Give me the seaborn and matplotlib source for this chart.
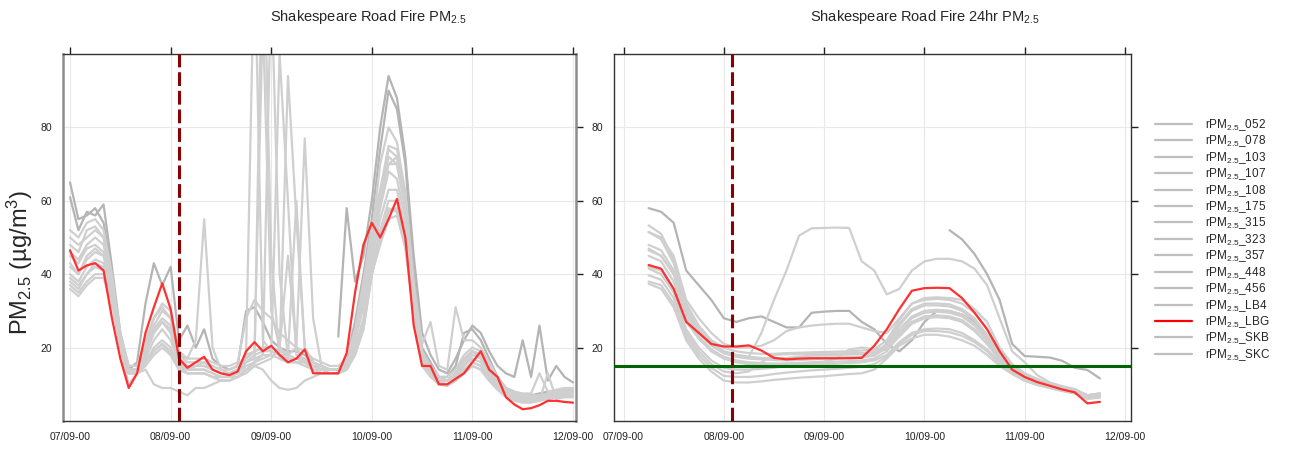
import numpy as np
import pandas as pd
import seaborn as sns
import matplotlib.pyplot as plt
import matplotlib.dates as mdates
from matplotlib.lines import Line2D

nan = np.nan

# ---- sensors ----
sites = ['052', '078', '103', '107', '108', '175', '315', '323',
         '357', '448', '456', 'LB4', 'LBG', 'SKB', 'SKC']

# ---- hourly PM2.5, read every 2 h from 07/09 00:00 to 12/09 00:00 ----
raw_times = pd.date_range('2019-09-07 00:00', '2019-09-12 00:00', freq='2h')

pm_052 = [65, 55, 56, 58, 54, 40, nan, nan, nan, nan, nan, nan,
          nan, nan, nan, nan, nan, nan, nan, nan, nan, nan, nan, nan,
          nan, nan, nan, nan, nan, nan, nan, nan, 23, 58, 38, 45,
          60, 80, 94, 88, 72, 45, 24, 18, 14, 13, 17, 22,
          26, 24, 19, 15, 13, 12, 22, 12, 26, 11, 15, 12,
          10.5]
pm_078 = [61, 52, 57, 56, 59, 42, 24, 14, 16, 32, 43, 37,
          42, 22, 26, 20, 25, 17, 15, 14, 15, 30, 31, 27,
          22, 20, 19, 19, 18, 16, 15, 14, 14, 17, 27, 40,
          55, 74, 90, 85, 70, 40, 20, 16, 12, 12, 15, 24,
          25, 22, 17, 12, 9, 8, 7, 7, 7.5, 8, 8, 8.5,
          8.5]
pm_103 = [50, 48, 50, 52, 50, 38, 22, 13, 14, 20, 26, 30,
          28, 18, 17, 22, 55, 20, 14, 13, 14, 18, 130, 22,
          19, 18, 17, 17, 16, 15, 14, 14, 14, 16, 22, 32,
          48, 62, 72, 70, 58, 33, 17, 14, 11, 11, 13, 17,
          19, 17, 13, 10, 7.5, 6.5, 6, 6, 6.5, 7, 7, 7.5,
          7.5]
pm_107 = [45, 43, 47, 48, 46, 36, 23, 14, 14, 19, 25, 28,
          26, 17, 15, 15, 16, 14, 13, 13, 14, 17, 19, 110,
          30, 20, 18, 17, 17, 15, 14, 14, 14, 15, 23, 33,
          50, 60, 70, 72, 60, 36, 18, 15, 12, 11, 13, 16,
          19, 18, 14, 10, 8, 7, 6, 6, 6.5, 7, 7.5, 8,
          8]
pm_108 = [43, 40, 44, 46, 45, 36, 21, 13, 13, 17, 22, 25,
          22, 16, 14, 14, 14, 13, 12, 12, 13, 16, 17, 18,
          120, 40, 17, 16, 16, 14, 14, 13, 13, 15, 22, 31,
          46, 58, 68, 66, 55, 33, 17, 14, 11, 11, 12, 15,
          18, 17, 13, 10, 7.5, 6.5, 6, 6, 6, 6.5, 7, 7.5,
          7.5]
pm_175 = [40, 38, 42, 44, 43, 35, 22, 14, 14, 16, 20, 22,
          20, 15, 14, 14, 14, 13, 12, 12, 13, 15, 16, 17,
          18, 100, 60, 18, 17, 15, 14, 14, 14, 15, 20, 28,
          44, 55, 63, 63, 52, 32, 17, 14, 11, 11, 12, 15,
          17, 16, 13, 9.5, 7.5, 6.5, 6, 6, 6, 6.5, 7, 7,
          7]
pm_315 = [48, 46, 52, 53, 50, 38, 24, 15, 15, 22, 28, 31,
          28, 18, 16, 16, 16, 15, 14, 14, 15, 18, 19, 20,
          20, 19, 94, 55, 20, 16, 15, 14, 14, 16, 24, 36,
          52, 62, 74, 72, 60, 36, 19, 15, 12, 12, 14, 18,
          20, 19, 15, 11, 8.5, 7.5, 7, 7, 7, 7.5, 8, 8.5,
          8.5]
pm_323 = [39, 37, 40, 42, 41, 33, 20, 13, 13, 14, 10, 9,
          9, 8, 7, 9, 9, 10, 11, 11, 12, 14, 15, 14,
          11, 9, 8.5, 9, 11, 12, 13, 13, 13, 14, 19, 26,
          40, 50, 58, 57, 48, 30, 16, 13, 10.5, 10, 11, 14,
          16, 15, 12, 9, 7, 6, 5.5, 5.5, 6, 6, 6.5, 7,
          7]
pm_357 = [42, 40, 45, 47, 45, 35, 21, 13, 14, 18, 24, 27,
          24, 16, 14, 15, 15, 14, 13, 13, 14, 16, 18, 19,
          19, 18, 18, 20, 77, 28, 15, 14, 14, 16, 23, 34,
          50, 60, 70, 70, 58, 34, 18, 15, 12, 11, 13, 16,
          19, 18, 14, 10, 8, 7, 6.5, 6.5, 7, 7, 7.5, 8,
          8]
pm_448 = [37, 35, 38, 40, 40, 33, 21, 14, 14, 16, 19, 21,
          19, 15, 13, 13, 13, 12, 12, 12, 12, 14, 15, 140,
          45, 17, 16, 16, 16, 14, 13, 13, 13, 14, 19, 26,
          42, 52, 60, 60, 50, 31, 16, 13, 10.5, 10, 11, 14,
          16, 15, 12, 9, 7, 6, 5.5, 5.5, 6, 6, 6.5, 7,
          7]
pm_456 = [36, 34, 37, 39, 39, 32, 20, 10, 13, 15, 18, 20,
          18, 14, 13, 13, 13, 12, 11, 11, 12, 13, 15, 16,
          17, 20, 45, 20, 16, 14, 13, 13, 13, 14, 18, 25,
          40, 50, 57, 58, 48, 30, 16, 13, 10, 10, 11, 13,
          15, 14, 11, 9, 7, 6, 5.5, 5.5, 5.5, 6, 6.5, 6.5,
          6.5]
pm_LB4 = [52, 50, 54, 55, 52, 40, 24, 15, 15, 21, 28, 32,
          30, 19, 17, 17, 17, 16, 15, 15, 16, 28, 33, 30,
          28, 24, 22, 20, 19, 17, 16, 15, 15, 17, 25, 38,
          53, 63, 75, 74, 62, 38, 21, 27, 15, 14, 31, 22,
          22, 20, 16, 12, 9, 8, 7.5, 7.5, 13, 8, 8.5, 9,
          9]
pm_LBG = [46.5, 41, 42.4, 43, 41, 28, 17, 9, 13, 24, 31, 37.5,
          30.5, 17, 14.5, 16, 17.5, 14, 13, 12.5, 13.5, 19, 21.5, 19,
          20.5, 18, 16, 17, 19.5, 13, 13, 13, 13, 18.5, 35, 48,
          54, 50, 55, 60.5, 50, 26, 15, 15, 10, 10, 11.5, 13,
          16, 19, 14, 12, 6.5, 4.5, 3.2, 3.5, 4.3, 5.5, 5.5, 5.2,
          5]
pm_SKB = [46, 44, 48, 50, 48, 37, 22, 14, 14, 19, 24, 27,
          25, 17, 15, 15, 15, 14, 13, 13, 14, 17, 19, 20,
          20, 19, 18, 60, 20, 16, 14, 14, 14, 15, 22, 33,
          50, 70, 80, 76, 62, 36, 18, 15, 12, 11, 13, 17,
          19, 18, 14, 10, 8, 7, 6.5, 6.5, 7, 7, 7.5, 8,
          8]
pm_SKC = [38, 36, 40, 43, 42, 34, 21, 13, 13, 16, 19, 21,
          18, 14, 13, 13, 13, 12, 11, 11, 12, 14, 16, 18,
          18, 17, 16, 16, 15, 14, 13, 13, 13, 14, 18, 25,
          40, 48, 55, 56, 47, 29, 15, 12, 10, 9.5, 11, 13,
          15, 14, 11, 8.5, 6.5, 5.5, 5, 5, 5.5, 13, 6, 6.5,
          6.5]

# ---- 24 h rolling mean, read every 3 h from 07/09 06:00 to 11/09 18:00 ----
roll_times = pd.date_range('2019-09-07 06:00', '2019-09-11 18:00', freq='3h')

r24_052 = [nan] * 24 + [52, 49.5, 45.5, 40, 33, 21, 17.7, 17.5, 17.3, 16.4, 14.5, 13.9, 11.6]
r24_078 = [58, 57, 54, 41, 37, 33, 28, 27, 28, 28.5,
           27, 25.5, 25.5, 29.5, 29.8, 30, 30, 27, 25, 21,
           19, 22, 27, 30, 30, 29, 27, 22, 17, 14,
           12.5, 11, 10, 9, 8.2, 6.5, 7]
r24_103 = [47, 45, 40, 30, 25, 21, 19, 18, 17.5, 24,
           33, 41, 50.5, 52.5, 52.6, 52.7, 52.6, 43.5, 41, 34.5,
           36, 41, 43.5, 44.2, 44.2, 43.5, 41.5, 37, 28, 19,
           16, 12.5, 10.5, 9.5, 8.7, 7, 7.5]
r24_107 = [48, 46.5, 41, 30, 25, 21.5, 19, 18, 17.5, 17.2,
           17, 16.8, 17, 17.2, 17.3, 17.3, 17.4, 17.5, 18, 21,
           26, 30, 31.5, 31.5, 31.2, 30, 27.5, 23, 18, 14.5,
           12, 10.5, 9.5, 8.8, 8.2, 6.8, 7.2]
r24_108 = [46.5, 45, 40, 29, 24, 20.5, 18.5, 17.5, 17, 16.8,
           16.6, 16.5, 16.6, 16.8, 17, 17, 17.2, 17.3, 17.8, 20,
           25, 28.5, 30, 30.3, 30, 29, 26.5, 22, 17.5, 14,
           11.8, 10.3, 9.4, 8.7, 8, 6.6, 7]
r24_175 = [45, 43.5, 38, 28, 23, 19.5, 17.5, 16.5, 16, 15.8,
           15.6, 15.5, 15.6, 15.8, 16, 16.2, 16.3, 16.5, 17, 19,
           23.5, 27, 28.5, 28.8, 28.5, 27.5, 25, 21, 17, 13.5,
           11.5, 10, 9.2, 8.5, 7.8, 6.4, 6.8]
r24_315 = [53.3, 51, 44, 32, 26, 22, 20, 19, 18.5, 18.3,
           18.3, 18.5, 18.6, 18.7, 18.8, 18.9, 19, 19.2, 19.5, 22,
           27.5, 32, 33, 33.3, 33, 32, 29.5, 25, 19, 15,
           12.5, 11, 10, 9.3, 8.6, 7, 7.5]
r24_323 = [37.4, 36, 31, 22, 17, 13.5, 11, 10.5, 10.5, 10.8,
           11.2, 11.5, 11.8, 12, 12.2, 12.5, 12.8, 13, 14, 17,
           20.5, 22.5, 23.5, 23.5, 23, 22, 20.5, 18, 15, 12.8,
           11, 9.8, 9, 8.2, 7.5, 6, 6.4]
r24_357 = [42, 41, 36, 27, 22.5, 19, 17, 16, 15.5, 15.5,
           15.6, 15.7, 15.8, 16, 16.2, 17, 19.5, 20, 19.5, 20,
           24, 28, 29.5, 29.8, 29.5, 28.5, 26, 22, 17.5, 14,
           12, 10.4, 9.5, 8.7, 8, 6.6, 7]
r24_448 = [39.7, 38.5, 33.5, 24, 19, 15.5, 13.5, 13, 13.5, 16,
           18, 18.2, 18.2, 18.3, 18.3, 18.4, 18.5, 18.5, 18.8, 19.5,
           23, 26.5, 28, 28.3, 28, 27, 24.5, 21, 16.5, 13.5,
           11.5, 10.2, 9.3, 8.5, 7.8, 6.5, 6.8]
r24_456 = [41.5, 40, 35, 25, 20, 16.5, 14.5, 14, 14, 14.2,
           14.5, 15, 15.2, 15.4, 15.5, 15.6, 15.8, 16, 16.5, 18,
           21.5, 24, 25, 25.2, 25, 24, 22, 19.5, 16, 13,
           11.2, 10, 9.1, 8.4, 7.6, 6.2, 6.6]
r24_LB4 = [51.5, 50, 45, 33, 28, 24, 21, 20, 20, 20.5,
           22, 24.5, 25.5, 26, 26.3, 26.5, 26.5, 25.5, 24.5, 24,
           28, 32, 33.5, 33.7, 33.5, 33, 30.5, 27, 20, 15.5,
           13, 11.5, 10, 9.2, 8.5, 7, 7.5]
r24_LBG = [42.5, 41.5, 36, 27, 24, 21, 20.3, 20.3, 20.6, 19.2,
           17.2, 16.8, 17, 17.1, 17.1, 17.1, 17.1, 17.2, 20.5, 25,
           30.5, 35.5, 36.2, 36.3, 36.2, 33.5, 29.5, 25, 19, 14,
           12, 10.6, 9.6, 8.6, 7.8, 4.8, 5.2]
r24_SKB = [51.5, 49.5, 43, 31, 25, 21, 18.5, 17.5, 17.2, 17,
           17, 17.2, 17.5, 17.8, 18, 18, 18.1, 18.2, 18.5, 21,
           26.5, 30.5, 32, 32, 31.8, 30.5, 28, 23.5, 18.5, 14.5,
           12.3, 10.8, 9.8, 9, 8.3, 6.8, 7.2]
r24_SKC = [38, 37, 32, 23, 18, 14.5, 12.3, 12, 12, 12.3,
           12.8, 13.2, 13.5, 13.8, 14, 14.2, 14.5, 14.8, 15.5, 17.5,
           21, 23.5, 24.5, 24.5, 24.2, 23.2, 21.5, 19, 15.5, 13,
           11, 9.9, 9, 8.2, 7.5, 6.1, 6.5]

raw = dict(zip(sites, [pm_052, pm_078, pm_103, pm_107, pm_108, pm_175, pm_315, pm_323,
                       pm_357, pm_448, pm_456, pm_LB4, pm_LBG, pm_SKB, pm_SKC]))
roll = dict(zip(sites, [r24_052, r24_078, r24_103, r24_107, r24_108, r24_175, r24_315, r24_323,
                        r24_357, r24_448, r24_456, r24_LB4, r24_LBG, r24_SKB, r24_SKC]))


def label(s):
    return 'rPM$_{2.5}$_' + s


def to_long(times, series):
    frames = []
    for s, vals in series.items():
        d = pd.DataFrame({'date': times, 'pm': vals})
        d['seg'] = d['pm'].isna().cumsum()   # break lines at gaps
        d['site'] = label(s)
        frames.append(d.dropna())
    return pd.concat(frames, ignore_index=True)


df_raw = to_long(raw_times, raw)
df_roll = to_long(roll_times, roll)

# colours
pal = {label(s): '#cfcfcf' for s in sites}
pal[label('052')] = '#b4b4b4'
pal[label('078')] = '#b4b4b4'
pal[label('LBG')] = '#ff3030'
draw_order = [label(s) for s in sites if s != 'LBG'] + [label('LBG')]

sns.set_style('white')
plt.rcParams['font.family'] = ['Liberation Sans', 'DejaVu Sans']
plt.rcParams['mathtext.fontset'] = 'custom'
plt.rcParams['mathtext.rm'] = 'Liberation Sans'
plt.rcParams['mathtext.it'] = 'Liberation Sans:italic'

W, H = 1290, 450
fig = plt.figure(figsize=(W / 100, H / 100), dpi=100)
ax1 = fig.add_axes([63 / W, 1 - 421 / H, 513 / W, 367 / H])
ax2 = fig.add_axes([614 / W, 1 - 421 / H, 517 / W, 367 / H])

t0 = pd.Timestamp('2019-09-07 00:00')
day = pd.Timedelta(days=1)
fire = pd.Timestamp('2019-09-08 02:00')

for ax, df in ((ax1, df_raw), (ax2, df_roll)):
    sns.lineplot(data=df, x='date', y='pm', hue='site', units='seg', estimator=None,
                 hue_order=draw_order, palette=pal, lw=1.6, legend=False, ax=ax)
    ax.axvline(fire, color='#8b0000', lw=2.2, ls=(0, (4.5, 1.6)), zorder=5)
    ax.set_ylim(0, 100)
    ax.set_yticks([20, 40, 60, 80])
    ax.xaxis.set_major_locator(mdates.DayLocator())
    ax.xaxis.set_major_formatter(mdates.DateFormatter('%d/%m-%H'))
    ax.tick_params(direction='out', length=5, width=1, labelsize=7.5, pad=3,
                   top=True, right=True, labeltop=False, labelright=False,
                   colors='#222222')
    ax.grid(True, color='#e8e8e8', lw=0.8)
    ax.set_axisbelow(True)
    ax.set_xlabel('')
    ax.set_ylabel('')
    for sp in ax.spines.values():
        sp.set_color('#333333')
        sp.set_linewidth(1)

ax1.set_xlim(t0 - 0.07 * day, t0 + 5.03 * day)
ax2.set_xlim(t0 - 0.095 * day, t0 + 5.06 * day)
for side in ('left', 'right'):
    ax1.spines[side].set_color('#8c8c8c')
    ax1.spines[side].set_linewidth(1.8)

ax2.axhline(15, color='#006400', lw=2.2, zorder=4)

fig.text(368 / W, 1 - 17 / H, 'Shakespeare Road Fire PM$_{2.5}$',
         ha='center', va='center', fontsize=10.5)
fig.text(925 / W, 1 - 17 / H, 'Shakespeare Road Fire 24hr PM$_{2.5}$',
         ha='center', va='center', fontsize=10.5)
fig.text(20 / W, 1 - 262 / H, 'PM$_{2.5}$ (µg/m$^3$)', rotation=90,
         ha='center', va='center', fontsize=17)

handles = [Line2D([], [], color='#ff0000' if s == 'LBG' else '#bebebe', lw=1.6) for s in sites]
fig.legend(handles, [label(s) for s in sites], loc='upper left',
           bbox_to_anchor=(1155 / W, 1 - 117 / H), frameon=False, fontsize=8.5,
           handlelength=3.1, handletextpad=1.1, labelspacing=0.05,
           borderpad=0, borderaxespad=0)

fig.savefig('out.png', dpi=100)
